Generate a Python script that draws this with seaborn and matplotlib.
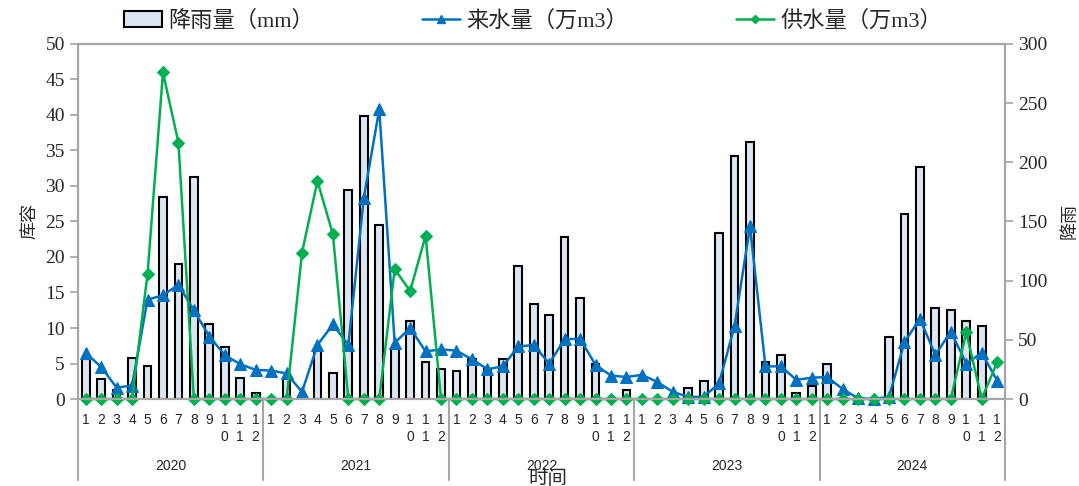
import matplotlib
matplotlib.use('Agg')
import matplotlib.pyplot as plt
import matplotlib.transforms as mtransforms
from matplotlib.patches import Patch
from matplotlib.lines import Line2D
import numpy as np
import pandas as pd
import seaborn as sns

# monthly data 2020-2024
years = ['2020', '2021', '2022', '2023', '2024']
months = list(range(1, 13))

rain_mm = [
    34, 17, 8, 35, 28, 171, 114, 188, 63, 44, 18, 5,
    0, 18, 0, 42, 22, 177, 239, 147, 42, 66, 31, 25,
    24, 34, 25, 34, 112, 80, 71, 137, 85, 30, 0, 8,
    0, 0, 0, 9, 15, 140, 205, 217, 31, 37, 5, 11,
    30, 0, 0, 0, 52, 156, 196, 77, 75, 66, 62, 0,
]
inflow = [
    6.5, 4.5, 1.6, 1.9, 14.0, 14.6, 16.1, 12.5, 8.8, 6.2, 4.9, 4.1,
    4.0, 3.6, 1.0, 7.6, 10.5, 7.6, 28.3, 40.8, 7.9, 10.0, 6.7, 7.0,
    6.8, 5.6, 4.2, 4.6, 7.4, 7.6, 5.0, 8.4, 8.5, 4.8, 3.3, 3.1,
    3.4, 2.4, 1.0, 0.3, 0.3, 2.2, 10.3, 24.3, 4.6, 4.6, 2.7, 3.0,
    3.1, 1.4, 0.1, 0.0, 0.3, 8.0, 11.3, 6.2, 9.5, 5.0, 6.5, 2.6,
]
supply = [
    0, 0, 0, 0, 17.6, 46.0, 36.1, 0, 0, 0, 0, 0,
    0, 0, 20.6, 30.7, 23.2, 0, 0, 0, 18.3, 15.2, 23.0, 0,
    0, 0, 0, 0, 0, 0, 0, 0, 0, 0, 0, 0,
    0, 0, 0, 0, 0, 0, 0, 0, 0, 0, 0, 0,
    0, 0, 0, 0, 0, 0, 0, 0, 0, 9.4, 0, 5.2,
]

df = pd.DataFrame({
    'idx': np.arange(len(rain_mm)),
    'rain': rain_mm,
    'inflow': inflow,
    'supply': supply,
})

sns.set_style('ticks')
cjk = ['Liberation Serif', 'Noto Sans CJK SC']
plt.rcParams['font.family'] = cjk

BAR_FILL = '#dce6f2'
BLUE = '#0070c0'
GREEN = '#00b050'
AXIS_GREY = '#a6a6a6'

fig = plt.figure(figsize=(10.79, 4.86), dpi=100)
ax = fig.add_axes([0.0723, 0.179, 0.859, 0.7305])
ax2 = ax.twinx()

# rainfall bars on right axis
sns.barplot(data=df, x='idx', y='rain', ax=ax2, color=BAR_FILL, width=0.5,
            edgecolor='black', linewidth=1.5, saturation=1)

# lines on left axis
sns.lineplot(data=df, x='idx', y='inflow', ax=ax, color=BLUE, marker='^',
             markersize=9, markeredgecolor=BLUE, linewidth=1.8)
sns.lineplot(data=df, x='idx', y='supply', ax=ax, color=GREEN, marker='D',
             markersize=6.5, markeredgecolor=GREEN, linewidth=1.8)
for ln in ax.lines:
    ln.set_clip_on(False)

ax.set_zorder(ax2.get_zorder() + 1)
ax.patch.set_visible(False)

ax.set_xlim(-0.5, 59.5)
ax2.set_xlim(-0.5, 59.5)
ax.set_ylim(0, 50)
ax2.set_ylim(0, 300)
ax.set_yticks(range(0, 51, 5))
ax2.set_yticks(range(0, 301, 50))

labels = []
for y in years:
    for m in months:
        labels.append('\n'.join(str(m)) if m >= 10 else str(m))
ax.set_xticks(range(60))
ax.set_xticklabels(labels, fontsize=10, family=['Liberation Sans'], linespacing=1.3)
ax.tick_params(axis='x', length=0, pad=10)
ax2.tick_params(axis='x', length=0, labelbottom=False)

for a in (ax, ax2):
    for s in a.spines.values():
        s.set_color(AXIS_GREY)
        s.set_linewidth(1.5)
        s.set_visible(True)
ax.tick_params(axis='y', labelsize=14, color=AXIS_GREY, width=1.2, length=6)
ax2.tick_params(axis='y', labelsize=14, color=AXIS_GREY, width=1.2, length=6)

ax.set_xlabel('')
ax2.set_xlabel('')
ax.set_ylabel('库容', fontsize=13, labelpad=4)
ax2.set_ylabel('降雨', fontsize=13, labelpad=10, rotation=90)

# year groups below the axis
trans = mtransforms.blended_transform_factory(ax.transData, ax.transAxes)
for k in range(len(years) + 1):
    xs = k * 12 - 0.5
    ax.plot([xs, xs], [0, -0.228], transform=trans, color=AXIS_GREY,
            lw=1.5, clip_on=False)
for k, y in enumerate(years):
    ax.text(k * 12 + 5.5, -0.19, y, transform=trans, ha='center', va='center',
            fontsize=10, family=['Liberation Sans'])

fig.text(0.508, 0.034, '时间', ha='center', va='top', fontsize=14)

handles = [
    Patch(facecolor=BAR_FILL, edgecolor='black', linewidth=1.5),
    Line2D([], [], color=BLUE, marker='^', markersize=6, linewidth=1.8),
    Line2D([], [], color=GREEN, marker='D', markersize=4, linewidth=1.8),
]
fig.legend(handles, ['降雨量（mm）', '来水量（万m3）', '供水量（万m3）'],
           loc='center', bbox_to_anchor=(0.494, 0.957), ncol=3, frameon=False,
           fontsize=16, columnspacing=4.85, handlelength=1.7, handletextpad=0.3)

fig.savefig('out.png', dpi=100)
